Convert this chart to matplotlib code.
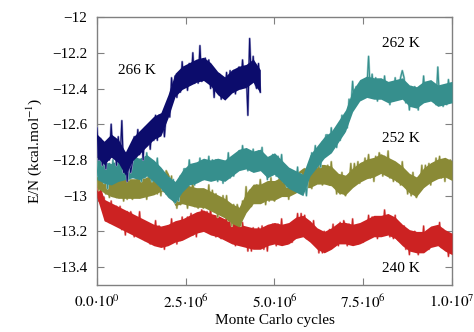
import numpy as np
import matplotlib.pyplot as plt

plt.rcParams['font.family'] = ['Liberation Serif', 'DejaVu Serif']
plt.rcParams['mathtext.fontset'] = 'stix'

# cycles in units of 1e6
# raw traces: one sample every 5e4 cycles
x_266 = np.arange(93) * 0.05
x_full = np.arange(201) * 0.05
# running means: one value every 2e5 cycles
xm_266 = np.arange(24) * 0.2
xm_full = np.arange(51) * 0.2

e_266 = [
    -12.62, -12.8, -12.68, -12.83, -12.72, -12.85, -12.72, -12.8, -12.6, -12.78,
    -12.68, -12.83, -12.67, -12.81, -12.58, -12.87, -12.76, -12.92, -12.8, -12.87,
    -12.81, -12.67, -12.75, -12.63, -12.77, -12.66, -12.8, -12.62, -12.72, -12.61,
    -12.74, -12.6, -12.69, -12.55, -12.69, -12.55, -12.64, -12.54, -12.67, -12.54,
    -12.49, -12.56, -12.34, -12.44, -12.33, -12.45, -12.33, -12.42, -12.25, -12.39,
    -12.29, -12.41, -12.26, -12.37, -12.2, -12.37, -12.25, -12.37, -12.16, -12.36,
    -12.34, -12.23, -12.29, -12.24, -12.4, -12.3, -12.45, -12.31, -12.42, -12.32,
    -12.46, -12.35, -12.44, -12.31, -12.44, -12.3, -12.39, -12.3, -12.43, -12.31,
    -12.28, -12.4, -12.24, -12.37, -12.28, -12.55, -12.12, -12.37, -12.22, -12.37,
    -12.4, -12.26, -12.42]

e_262 = [
    -12.89, -12.8, -12.88, -12.8, -12.93, -12.85, -12.96, -12.82, -12.89, -12.8,
    -12.92, -12.82, -12.89, -12.77, -12.9, -12.79, -12.87, -12.79, -12.91, -12.81,
    -12.79, -12.89, -12.76, -12.88, -12.81, -12.92, -12.82, -12.9, -12.76, -12.87,
    -12.81, -12.92, -12.81, -12.9, -12.79, -12.94, -12.86, -12.97, -12.91, -12.99,
    -12.99, -12.9, -12.99, -12.91, -13.04, -12.94, -13.03, -12.89, -12.95, -12.85,
    -12.85, -12.94, -12.8, -12.91, -12.83, -12.94, -12.85, -12.92, -12.79, -12.9,
    -12.91, -12.81, -12.89, -12.78, -12.91, -12.8, -12.87, -12.8, -12.92, -12.82,
    -12.83, -12.93, -12.81, -12.9, -12.76, -12.9, -12.8, -12.89, -12.8, -12.86,
    -12.75, -12.85, -12.72, -12.82, -12.75, -12.86, -12.78, -12.86, -12.74, -12.85,
    -12.85, -12.75, -12.82, -12.73, -12.86, -12.79, -12.91, -12.79, -12.87, -12.77,
    -12.79, -12.89, -12.78, -12.88, -12.77, -12.92, -12.84, -12.95, -12.88, -12.95,
    -12.96, -12.87, -12.95, -12.84, -12.98, -12.88, -12.98, -12.91, -13.0, -12.86,
    -12.87, -12.76, -12.82, -12.72, -12.84, -12.74, -12.84, -12.7, -12.76, -12.66,
    -12.66, -12.76, -12.62, -12.72, -12.63, -12.73, -12.62, -12.69, -12.55, -12.65,
    -12.55, -12.62, -12.46, -12.52, -12.36, -12.49, -12.39, -12.47, -12.38, -12.45,
    -12.45, -12.35, -12.41, -12.22, -12.43, -12.32, -12.41, -12.34, -12.47, -12.37,
    -12.35, -12.45, -12.33, -12.44, -12.38, -12.49, -12.4, -12.47, -12.34, -12.45,
    -12.44, -12.34, -12.3, -12.34, -12.48, -12.4, -12.52, -12.39, -12.48, -12.39,
    -12.42, -12.52, -12.39, -12.47, -12.33, -12.47, -12.37, -12.47, -12.39, -12.47,
    -12.38, -12.49, -12.28, -12.47, -12.39, -12.5, -12.41, -12.49, -12.35, -12.46,
    -12.4]

e_252 = [
    -12.85, -12.97, -12.86, -12.96, -12.84, -12.99, -12.9, -13.01, -12.93, -13.0,
    -12.91, -13.01, -12.88, -12.99, -12.92, -13.03, -12.94, -13.02, -12.89, -13.0,
    -13.02, -12.92, -12.99, -12.88, -13.01, -12.9, -12.98, -12.9, -13.02, -12.92,
    -12.99, -12.88, -12.96, -12.87, -12.99, -12.9, -13.0, -12.87, -12.95, -12.86,
    -12.88, -13.0, -12.89, -13.02, -12.96, -13.07, -12.98, -13.05, -12.92, -13.03,
    -12.96, -13.07, -12.95, -13.04, -12.91, -13.06, -12.97, -13.07, -12.99, -13.06,
    -13.07, -12.97, -13.05, -12.94, -13.08, -12.97, -13.06, -12.99, -13.12, -13.02,
    -13.1, -13.0, -13.09, -13.0, -13.14, -13.05, -13.17, -13.05, -13.14, -13.05,
    -13.09, -13.17, -13.03, -13.1, -12.95, -13.07, -12.97, -13.06, -12.97, -13.04,
    -12.94, -13.04, -12.91, -13.01, -12.94, -13.05, -12.95, -13.03, -12.9, -13.01,
    -13.03, -12.93, -12.99, -12.88, -13.0, -12.89, -12.97, -12.9, -13.02, -12.92,
    -12.98, -12.88, -12.95, -12.86, -12.98, -12.88, -12.98, -12.85, -12.93, -12.84,
    -12.87, -12.96, -12.84, -12.92, -12.79, -12.93, -12.84, -12.94, -12.86, -12.93,
    -12.83, -12.94, -12.81, -12.93, -12.87, -12.99, -12.91, -12.99, -12.87, -12.98,
    -13.0, -12.89, -12.94, -12.82, -12.94, -12.82, -12.89, -12.81, -12.93, -12.82,
    -12.89, -12.79, -12.87, -12.77, -12.9, -12.81, -12.92, -12.78, -12.86, -12.76,
    -12.79, -12.89, -12.78, -12.88, -12.75, -12.9, -12.81, -12.92, -12.84, -12.92,
    -12.83, -12.94, -12.81, -12.93, -12.87, -12.99, -12.91, -13.0, -12.87, -12.99,
    -13.01, -12.9, -12.95, -12.83, -12.95, -12.83, -12.9, -12.82, -12.94, -12.83,
    -12.9, -12.79, -12.87, -12.78, -12.9, -12.81, -12.92, -12.8, -12.88, -12.8,
    -12.86]

e_240 = [
    -12.88, -13.03, -12.93, -13.06, -13.01, -13.14, -13.06, -13.15, -13.03, -13.15,
    -13.15, -13.06, -13.14, -13.06, -13.19, -13.11, -13.22, -13.09, -13.18, -13.09,
    -13.12, -13.23, -13.12, -13.21, -13.09, -13.23, -13.15, -13.25, -13.18, -13.25,
    -13.27, -13.17, -13.25, -13.14, -13.27, -13.17, -13.25, -13.18, -13.3, -13.19,
    -13.17, -13.27, -13.13, -13.24, -13.16, -13.27, -13.18, -13.25, -13.12, -13.23,
    -13.22, -13.12, -13.19, -13.1, -13.22, -13.13, -13.23, -13.1, -13.17, -13.08,
    -13.1, -13.2, -13.09, -13.19, -13.07, -13.21, -13.13, -13.23, -13.15, -13.23,
    -13.24, -13.14, -13.22, -13.11, -13.25, -13.14, -13.23, -13.16, -13.28, -13.19,
    -13.17, -13.27, -13.15, -13.26, -13.19, -13.31, -13.22, -13.31, -13.18, -13.29,
    -13.29, -13.18, -13.26, -13.17, -13.3, -13.2, -13.31, -13.17, -13.25, -13.16,
    -13.18, -13.28, -13.16, -13.26, -13.13, -13.27, -13.18, -13.27, -13.19, -13.26,
    -13.26, -13.15, -13.21, -13.1, -13.22, -13.1, -13.18, -13.11, -13.24, -13.16,
    -13.15, -13.26, -13.14, -13.26, -13.2, -13.32, -13.24, -13.32, -13.2, -13.31,
    -13.3, -13.19, -13.26, -13.16, -13.28, -13.18, -13.28, -13.15, -13.23, -13.14,
    -13.17, -13.28, -13.16, -13.26, -13.13, -13.27, -13.18, -13.27, -13.19, -13.26,
    -13.26, -13.16, -13.22, -13.11, -13.23, -13.12, -13.19, -13.12, -13.24, -13.14,
    -13.12, -13.21, -13.08, -13.18, -13.11, -13.23, -13.15, -13.24, -13.11, -13.24,
    -13.25, -13.16, -13.25, -13.17, -13.3, -13.22, -13.33, -13.21, -13.29, -13.2,
    -13.23, -13.33, -13.21, -13.3, -13.17, -13.3, -13.2, -13.3, -13.21, -13.28,
    -13.28, -13.18, -13.25, -13.15, -13.29, -13.19, -13.28, -13.22, -13.34, -13.25,
    -13.3]

m_266 = [-12.72, -12.76, -12.72, -12.75, -12.82, -12.74, -12.7, -12.66, -12.62, -12.6,
         -12.5, -12.38, -12.34, -12.32, -12.3, -12.29, -12.32, -12.37, -12.4, -12.36,
         -12.34, -12.33, -12.3, -12.36]

m_262 = [-12.85, -12.87, -12.88, -12.86, -12.85, -12.84, -12.85, -12.83, -12.86, -12.9,
         -12.95, -12.98, -12.92, -12.88, -12.87, -12.85, -12.86, -12.85, -12.86, -12.83,
         -12.8, -12.79, -12.81, -12.8, -12.84, -12.82, -12.86, -12.9, -12.92, -12.94,
         -12.83, -12.78, -12.73, -12.7, -12.64, -12.58, -12.47, -12.41, -12.39, -12.4,
         -12.4, -12.42, -12.41, -12.4, -12.44, -12.45, -12.42, -12.41, -12.44, -12.43,
         -12.42]

m_252 = [-12.9, -12.93, -12.95, -12.96, -12.96, -12.96, -12.96, -12.95, -12.94, -12.92,
         -12.93, -13.0, -12.99, -13.0, -13.01, -13.01, -13.03, -13.05, -13.07, -13.1,
         -13.12, -13.04, -12.99, -12.99, -12.97, -12.97, -12.95, -12.95, -12.93, -12.9,
         -12.9, -12.88, -12.88, -12.89, -12.93, -12.94, -12.9, -12.87, -12.85, -12.84,
         -12.82, -12.84, -12.86, -12.89, -12.93, -12.95, -12.9, -12.87, -12.85, -12.84,
         -12.86]

m_240 = [-12.95, -13.08, -13.1, -13.12, -13.14, -13.16, -13.18, -13.2, -13.22, -13.23,
         -13.22, -13.2, -13.19, -13.17, -13.15, -13.14, -13.16, -13.17, -13.19, -13.21,
         -13.22, -13.23, -13.24, -13.24, -13.22, -13.21, -13.22, -13.21, -13.18, -13.17,
         -13.2, -13.24, -13.26, -13.24, -13.21, -13.21, -13.22, -13.21, -13.19, -13.17,
         -13.17, -13.16, -13.18, -13.22, -13.25, -13.26, -13.26, -13.23, -13.22, -13.25,
         -13.27]

# half width of the dense core of each band
half_width = {'240 K': 0.06, '252 K': 0.055, '262 K': 0.06, '266 K': 0.065}

series = [
    (x_full, e_240, xm_full, m_240, '#cc2222', '#eaa6a6', '240 K', (8.55, -13.41)),
    (x_full, e_252, xm_full, m_252, '#8a8a36', '#cccca0', '252 K', (8.55, -12.68)),
    (x_full, e_262, xm_full, m_262, '#368f8d', '#a0cecc', '262 K', (8.55, -12.15)),
    (x_266, e_266, xm_266, m_266, '#0c0c6c', '#9c9cc8', '266 K', (1.13, -12.3)),
]

fig = plt.figure(figsize=(4.74, 3.32), dpi=100)
ax = fig.add_axes([0.2046, 0.1416, 0.749, 0.807])

for i, (x, e, xm, m, c, light, name, pos) in enumerate(series):
    m = np.array(m)
    w = half_width[name]
    z = 2 + 3 * i
    ax.plot(x * 1e6, e, color=light, lw=1.6, zorder=z)
    ax.fill_between(xm * 1e6, m - w, m + w, color=c, lw=0, zorder=z + 1)
    ax.plot(x * 1e6, e, color=c, lw=0.8, zorder=z + 2)
    ax.text(pos[0] * 1e6, pos[1], name, fontsize=11, ha='center', va='center', zorder=20)

ax.set_xlim(0, 1e7)
ax.set_ylim(-13.5, -12)
ax.set_xticks([0, 2.5e6, 5e6, 7.5e6, 1e7])
ax.set_xticklabels([r'$0.0{\cdot}10^{0}$', r'$2.5{\cdot}10^{6}$', r'$5.0{\cdot}10^{6}$',
                    r'$7.5{\cdot}10^{6}$', r'$1.0{\cdot}10^{7}$'])
ax.set_yticks([-12, -12.2, -12.4, -12.6, -12.8, -13, -13.2, -13.4])
ax.set_yticklabels(['\u221212', '\u221212.2', '\u221212.4', '\u221212.6', '\u221212.8',
                    '\u221213', '\u221213.2', '\u221213.4'])
ax.tick_params(direction='in', top=True, right=True, length=5, color='#808080', labelsize=11)
ax.tick_params(axis='y', pad=7)
ax.tick_params(axis='x', pad=6)
for s in ax.spines.values():
    s.set_color('#808080')
    s.set_linewidth(1.0)
ax.set_xlabel('Monte Carlo cycles', fontsize=11, labelpad=2)
ax.set_ylabel(r'E/N (kcal.mol$^{-1}$)', fontsize=11, labelpad=6)

fig.savefig('out.png', dpi=100)
